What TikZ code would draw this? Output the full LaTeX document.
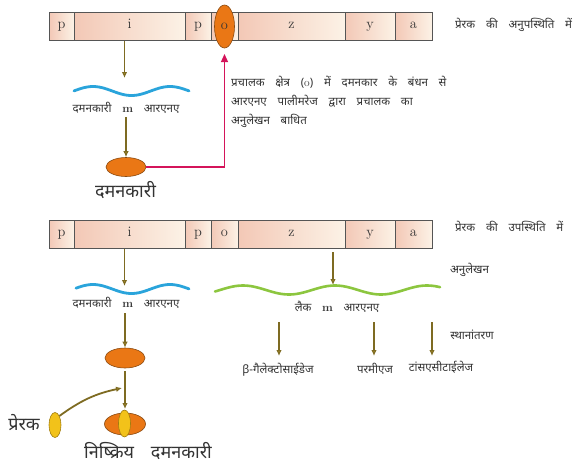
\documentclass[tikz,border=0pt]{standalone}
\usepackage{fontspec}
\newfontfamily\dev[Script=Devanagari]{Noto Sans}
\newfontfamily\devw[Script=Devanagari,WordSpace=1.8]{Noto Sans}
\usetikzlibrary{arrows.meta,shapes.geometric}
\definecolor{barL}{HTML}{F3C8B6}
\definecolor{barR}{HTML}{FCF2E6}
\definecolor{barD}{HTML}{555555}
\definecolor{arrc}{HTML}{7E6B22}
\definecolor{tipc}{HTML}{E9C530}
\definecolor{orng}{HTML}{EA7715}
\definecolor{orngD}{HTML}{8A4A10}
\definecolor{yell}{HTML}{F2C21A}
\definecolor{yellD}{HTML}{A07D10}
\definecolor{crim}{HTML}{D4145A}
\definecolor{wblue}{HTML}{2AA4DB}
\definecolor{wgreen}{HTML}{8CC63F}
\definecolor{txt}{HTML}{333333}
\tikzset{
  cell/.style={draw=barD, line width=1pt, left color=barL, right color=barR, minimum height=28pt, inner sep=0pt, font=\Large, text=txt, text height=1ex, text depth=0pt},
  garrow/.style={draw=arrc, line width=1.8pt, -{Latex[length=6pt,width=5.5pt,fill=tipc]}},
  rarrow/.style={draw=crim, line width=1.2pt, -{Triangle[length=8pt,width=7pt]}},
  small/.style={font=\devw\fontsize{11.5}{19}\selectfont, text=txt, inner sep=0pt},
  big/.style={font=\dev\fontsize{18}{21}\selectfont, text=txt, inner sep=0pt},
  rep/.style={ellipse, draw=orngD, fill=orng, line width=0.6pt, inner sep=0pt},
  ind/.style={ellipse, draw=yellD, fill=yell, line width=0.6pt, inner sep=0pt},
}
\begin{document}
\begin{tikzpicture}[x=1pt,y=-1pt]
\useasboundingbox (0,0) rectangle (573,464);
% top bar
\foreach \a/\b/\t/\n in {49/74/p/p1,74/185/i/i,185/211/p/p2,211/238/{}/o,238/345/z/z,345/395/y/y,395/432/a/a}
  \node[cell, minimum width={(\b-\a)*1pt}] (A\n) at ({(\a+\b)/2},26.5) {\t};
\node[rep, minimum width=20pt, minimum height=43pt, font=\Large, text=txt] (opr) at (224.5,26.5) {o};
\node[small, anchor=west] (lab1) at (455,25) {प्रेरक \ की \ अनुपस्थिति \ में};
% bottom bar
\foreach \a/\b/\t/\n in {49/74/p/p1,74/185/i/i,185/211/p/p2,211/238/o/o,238/345/z/z,345/395/y/y,395/432/a/a}
  \node[cell, minimum width={(\b-\a)*1pt}] (B\n) at ({(\a+\b)/2},234.5) {\t};
\node[small, anchor=west] (lab2) at (455,226) {प्रेरक \ की \ उपस्थिति \ में};

% top left pathway
\coordinate (w1) at (124.5,78);
\draw[garrow] (w1 |- Ai.south) -- (w1);
\draw[wblue, line width=2.8pt, line cap=round] plot[domain=74:189, samples=60] (\x,{91-4.5*cos((\x-93)/77*360)});
\node[small] (m1) at (126,108) {दमनकारी \ {\rmfamily\bfseries m} \ आरएनए};
\node[rep, minimum width=40pt, minimum height=19pt] (r1) at (126,167) {};
\coordinate (s1) at (126,117);
\draw[garrow] (s1) -- (r1.north);
\node[big] (r1t) at (125.5,190) {दमनकारी};
\coordinate (rt) at (224.5,54);
\draw[rarrow] (r1.east) -| (rt);
\node[small, anchor=north west, align=left] (note) at (231,76)
  {प्रचालक \ क्षेत्र \ ({\rmfamily o}) \ में \ दमनकार \ के \ बंधन \ से\\आरएनए \ पालीमरेज \ द्वारा \ प्रचालक \ का\\अनुलेखन \ बाधित};

% bottom left pathway
\coordinate (w2) at (124.5,286);
\draw[garrow] (w2 |- Bi.south) -- (w2);
\draw[wblue, line width=2.8pt, line cap=round] plot[domain=76:189, samples=60] (\x,{289-4.5*cos((\x-93)/77*360)});
\node[small] (m2) at (126,303) {दमनकारी \ {\rmfamily\bfseries m} \ आरएनए};
\node[rep, minimum width=40pt, minimum height=20pt] (r2) at (125,358) {};
\coordinate (s2) at (125,313);
\draw[garrow] (s2) -- (r2.north);
\node[rep, minimum width=41pt, minimum height=22pt] (r3) at (125,424) {};
\node[ind, minimum width=12pt, minimum height=27pt] (i3) at (124.5,423.5) {};
\coordinate (s3) at (125,371);
\coordinate (e3) at (125,409);
\draw[garrow] (s3) -- (e3);
\node[ind, minimum width=12pt, minimum height=25pt] (pr) at (55,425) {};
\node[big] (prt) at (24,423) {प्रेरक};
\coordinate (c3) at (122,388);
\draw[garrow] (pr.north east) to[bend left=12] (c3);
\node[big] (inact) at (148,451) {निष्क्रिय \ दमनकारी};

% lac pathway
\coordinate (zt) at (333,252);
\coordinate (zw) at (333,285);
\draw[garrow] (zt) -- (zw);
\draw[wgreen, line width=2.6pt, line cap=round] plot[domain=215:440, samples=90] (\x,{290-4.5*cos((\x-243)/92*360)});
\node[small, anchor=west] (anul) at (450,270) {अनुलेखन};
\node[small] (lac) at (337,307) {लैक \ {\rmfamily\bfseries m} \ आरएनए};
\foreach \x/\n in {279/g,374/p,432/t}{
  \coordinate (s\n) at (\x,322);
  \coordinate (e\n) at (\x,356);
  \draw[garrow] (s\n) -- (e\n);
}
\node[small] (gal) at (278,370) {β-गैलेक्टोसाईडेज};
\node[small] (perm) at (375,369) {परमीएज};
\node[small] (trans) at (441,367) {टांसएसीटाईलेज};
\node[small] (sthan) at (472,335) {स्थानांतरण};
\end{tikzpicture}
\end{document}
